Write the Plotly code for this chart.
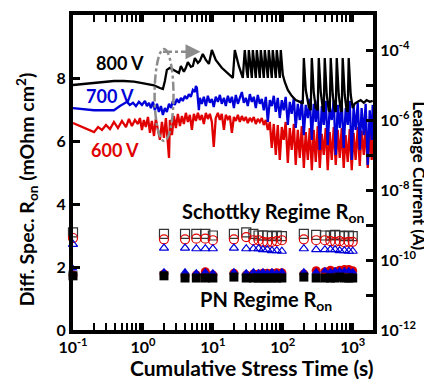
import plotly.graph_objects as go

# ---------------- data ----------------
# Leakage current (A) vs cumulative stress time (s)
t_600 = [0.1, 0.2, 0.228, 0.26, 0.296, 0.338, 0.385, 0.439, 0.501, 0.572, 0.631, 0.696, 0.769, 0.848,
         0.906, 0.968, 1.03, 1.10, 1.18, 1.26, 1.34, 1.44, 1.53, 1.64, 1.75, 1.87, 2.0, 2.13, 2.28, 2.36,
         2.43, 2.60, 2.77, 2.96, 3.16, 3.38, 3.61, 3.85, 4.11, 4.39, 4.69, 5.01, 5.35, 5.72, 6.11, 6.52,
         6.96, 7.43, 7.94, 8.48, 9.06, 9.68, 10.3, 11.0, 11.8, 12.6, 13.4, 14.4, 15.3, 16.4, 17.5, 18.7,
         20.0, 21.3, 22.8, 24.3, 26.0, 27.7, 29.6, 31.6, 33.8, 36.1, 38.5, 41.1, 43.9, 46.9, 50.1, 53.5,
         57.2, 61.1, 65.2, 69.6, 74.3, 79.4, 84.8, 90.6, 96.8, 103, 110, 118, 126, 134, 144, 153, 164,
         175, 187, 200, 213, 228, 243, 260, 277, 296, 316, 338, 361, 385, 411, 439, 469, 501, 535, 572,
         611, 652, 696, 743, 794, 848, 906, 968, 1030, 1100, 1180, 1260, 1340, 1440, 1530, 1640, 1750,
         1870, 1930]
i_600 = [8.2e-7, 4.5e-7, 6.3e-7, 5.2e-7, 7.2e-7, 5.5e-7, 8.8e-7, 5.9e-7, 9.4e-7, 6.3e-7, 1.07e-6, 6.7e-7,
         1.0e-6, 7.7e-7, 1.14e-6, 5.2e-7, 1.0e-6, 6.3e-7, 1.22e-6, 4.3e-7, 9.4e-7, 3.5e-7, 1.07e-6, 5.2e-7,
         2.7e-7, 8.8e-7, 3.1e-7, 1.14e-6, 1.4e-7, 8.2e-8, 1.0e-6, 3.7e-7, 1.3e-6, 5.9e-7, 1.5e-6, 6.7e-7,
         1.3e-6, 7.7e-7, 1.6e-6, 8.8e-7, 1.4e-6, 5.2e-7, 1.5e-6, 9.4e-7, 1.6e-6, 1.0e-6, 1.4e-6, 7.7e-7,
         1.6e-6, 1.07e-6, 1.5e-6, 8.8e-7, 1.7e-7, 1.14e-6, 1.6e-6, 1.0e-6, 1.5e-6, 5.2e-7, 1.4e-6, 1.07e-6,
         1.3e-6, 4.3e-7, 1.22e-6, 9.4e-7, 1.4e-6, 8.8e-7, 1.3e-6, 9.4e-7, 1.22e-6, 8.2e-7, 1.14e-6, 9.4e-7,
         1.22e-6, 7.7e-7, 1.07e-6, 8.8e-7, 1.14e-6, 7.2e-7, 1.0e-6, 5.2e-7, 8.8e-7, 1.6e-7, 7.7e-7, 1.0e-7,
         7.2e-7, 7.2e-8, 6.3e-7, 2.7e-7, 8.8e-7, 5.9e-8, 5.9e-7, 1.4e-7, 7.7e-7, 5.2e-8, 5.2e-7, 8.2e-8,
         6.7e-7, 4.3e-8, 4.5e-7, 7.2e-8, 5.9e-7, 3.7e-8, 5.2e-7, 6.3e-8, 6.7e-7, 4.3e-8, 4.0e-7, 1.0e-7,
         5.9e-7, 3.7e-8, 4.5e-7, 7.2e-8, 6.3e-7, 5.2e-8, 5.2e-7, 8.2e-8, 5.9e-7, 4.3e-8, 3.7e-7, 6.3e-8,
         5.5e-7, 3.7e-8, 4.3e-7, 7.2e-8, 6.3e-7, 4.9e-8, 4.9e-7, 1.0e-7, 5.9e-7, 4.3e-8, 4.3e-7, 7.2e-8,
         5.2e-7]

t_700 = [0.1, 0.144, 0.2, 0.277, 0.385, 0.469, 0.536, 0.59, 0.65, 0.72, 0.794, 0.877, 0.968, 1.07, 1.14,
         1.22, 1.30, 1.39, 1.48, 1.59, 1.69, 1.81, 1.93, 2.06, 2.20, 2.36, 2.52, 2.68, 2.86, 3.06, 3.27,
         3.49, 3.72, 3.98, 4.25, 4.54, 4.84, 5.18, 5.53, 5.72, 5.91, 6.11, 6.31, 6.52, 6.96, 7.43, 7.94,
         8.48, 9.06, 9.68, 10.3, 11.0, 11.8, 12.6, 13.4, 14.4, 15.3, 16.4, 17.5, 18.7, 20.0, 21.3, 22.8,
         24.3, 26.0, 27.7, 29.6, 31.6, 33.8, 36.1, 38.5, 41.1, 43.9, 46.9, 50.1, 53.5, 57.2, 61.1, 65.2,
         69.6, 74.3, 79.4, 84.8, 90.6, 96.8, 103, 110, 118, 126, 134, 144, 153, 164, 175, 187, 200, 213,
         228, 243, 260, 277, 296, 316, 338, 361, 385, 411, 439, 469, 501, 535, 572, 611, 652, 696, 743,
         794, 848, 906, 968, 1030, 1100, 1180, 1260, 1340, 1440, 1530, 1640, 1750, 1870, 1930]
i_700 = [2.2e-6, 2.05e-6, 1.9e-6, 1.9e-6, 1.9e-6, 2.5e-6, 2.9e-6, 3.3e-6, 2.7e-6, 3.1e-6, 2.5e-6, 3.3e-6,
         2.7e-6, 3.5e-6, 2.5e-6, 3.1e-6, 2.2e-6, 3.3e-6, 1.9e-6, 2.9e-6, 1.7e-6, 2.5e-6, 1.4e-6, 2.2e-6,
         1.7e-6, 2.9e-6, 2.2e-6, 3.5e-6, 2.7e-6, 4.0e-6, 3.1e-6, 4.3e-6, 3.5e-6, 4.9e-6, 4.0e-6, 5.5e-6,
         4.6e-6, 7.2e-6, 6.3e-6, 9.4e-6, 8.2e-6, 3.3e-6, 1.9e-6, 4.3e-6, 2.9e-6, 4.6e-6, 2.5e-6, 4.9e-6,
         3.1e-6, 4.0e-6, 2.35e-6, 4.6e-6, 3.3e-6, 5.2e-6, 2.9e-6, 4.3e-6, 2.5e-6, 4.9e-6, 3.1e-6, 4.6e-6,
         2.2e-6, 5.2e-6, 2.9e-6, 4.3e-6, 6.3e-6, 3.1e-6, 4.3e-6, 2.5e-6, 5.5e-6, 3.3e-6, 4.6e-6, 2.2e-6,
         5.2e-6, 2.9e-6, 4.0e-6, 1.9e-6, 4.6e-6, 8.8e-7, 3.7e-6, 2.5e-6, 4.9e-6, 1.7e-6, 4.3e-6, 1.14e-6,
         3.7e-6, 1.9e-6, 4.6e-6, 7.2e-7, 3.3e-6, 1.5e-6, 4.3e-6, 5.9e-7, 2.9e-6, 1.0e-6, 3.7e-6, 3.7e-7,
         2.7e-6, 1.14e-6, 4.0e-6, 2.7e-7, 2.9e-6, 8.8e-7, 3.7e-6, 1.4e-7, 2.5e-6, 7.2e-7, 3.5e-6, 1.9e-7,
         2.35e-6, 1.0e-6, 3.7e-6, 1.0e-7, 2.7e-6, 5.9e-7, 3.3e-6, 1.6e-7, 2.2e-6, 7.2e-7, 3.5e-6, 7.2e-8,
         2.5e-6, 5.2e-7, 3.1e-6, 1.4e-7, 2.2e-6, 3.7e-7, 2.9e-6, 5.2e-8, 1.9e-6, 2.7e-7, 2.7e-6]

t_800 = [0.1, 0.144, 0.2, 0.277, 0.385, 0.536, 0.743, 0.936, 1.18, 1.44, 1.75, 1.93, 2.06, 2.20, 2.43,
         2.77, 3.06, 3.27, 3.49, 3.85, 4.11, 4.39, 4.84, 5.18, 5.53, 6.11, 6.52, 7.18, 7.94, 8.77, 9.68,
         11.0, 13.4, 16.4, 19.3, 20.6, 23.5, 26.8, 28.6,
         30.6, 31.6, 32.7, 34.9, 36.1, 37.3, 39.8, 41.1, 42.5, 45.4, 46.9, 48.5, 51.8, 53.5, 55.3,
         59.1, 61.1, 63.1, 67.4, 69.6, 71.9, 76.8, 79.4, 82.0, 87.6, 90.6, 93.6,
         100, 107, 118, 134, 153, 175, 193, 200, 213, 235, 251, 260, 277, 296, 316, 327, 349, 373, 385,
         398, 425, 454, 469, 485, 518, 553, 572, 591, 631, 674, 696, 719, 768, 820, 848, 876, 936, 1000,
         1064, 1180, 1300, 1440, 1580, 1750, 1930]
i_800 = [1.0e-5, 1.07e-5, 1.15e-5, 1.25e-5, 1.3e-5, 1.3e-5, 1.25e-5, 1.15e-5, 1.07e-5, 9.8e-6, 8.2e-6, 7.7e-6,
         1.3e-5, 2.7e-5, 3.1e-5, 2.7e-5, 2.4e-5, 2.2e-5, 3.5e-5, 2.4e-5, 3.1e-5, 4.5e-5, 3.3e-5, 3.5e-5,
         5.9e-5, 4.3e-5, 4.9e-5, 7.7e-5, 5.2e-5, 4.0e-5, 1.0e-4,
         5.2e-5, 3.1e-5, 2.1e-5, 1.6e-5, 1.0e-4, 3.5e-5, 1.6e-5, 1.0e-4,
         2.4e-5, 1.6e-5, 1.0e-4, 2.4e-5, 1.6e-5, 1.0e-4, 2.4e-5, 1.6e-5, 1.0e-4, 2.4e-5, 1.6e-5, 1.0e-4,
         2.4e-5, 1.6e-5, 1.0e-4, 2.4e-5, 1.6e-5, 1.0e-4, 2.4e-5, 1.6e-5, 1.0e-4, 2.4e-5, 1.6e-5, 1.0e-4,
         2.4e-5, 1.6e-5, 1.0e-4,
         1.95e-5, 1.2e-5, 7.2e-6, 4.9e-6, 3.7e-6, 3.3e-6, 2.9e-6, 5.9e-5, 7.2e-6, 2.5e-6, 1.9e-6, 5.9e-5,
         6.3e-6, 2.2e-6, 1.9e-6, 5.9e-5, 6.3e-6, 2.2e-6, 1.7e-6, 5.9e-5, 5.2e-6, 1.9e-6, 1.7e-6, 5.9e-5,
         5.2e-6, 1.9e-6, 1.7e-6, 5.9e-5, 5.2e-6, 1.9e-6, 1.7e-6, 5.9e-5, 5.2e-6, 1.9e-6, 1.7e-6, 5.9e-5,
         5.2e-6, 2.2e-6, 2.9e-6, 3.3e-6, 3.7e-6, 3.1e-6, 3.7e-6, 3.3e-6, 3.5e-6]

# Differential specific Ron (mOhm cm^2) measurements
t_meas = [0.1, 2.0, 4.0, 5.8, 7.8, 10, 20, 30, 38, 45, 52, 60, 70, 82, 97,
          200, 300, 400, 480, 560, 650, 760, 880, 1000, 2050]
sch_800 = [3.1, 3.05, 3.05, 3.05, 3.05, 3.0, 3.05, 3.1, 3.05, 3.0, 3.0, 3.0, 2.98, 3.0, 2.98,
           3.05, 3.02, 3.0, 3.0, 3.02, 3.0, 2.98, 3.0, 2.98, 3.0]
sch_600 = [2.92, 2.88, 2.88, 2.9, 2.9, 2.85, 2.88, 2.95, 2.85, 2.85, 2.8, 2.78, 2.8, 2.82, 2.85,
           2.88, 2.85, 2.85, 2.82, 2.8, 2.82, 2.78, 2.8, 2.8, 2.85]
sch_700 = [2.72, 2.6, 2.6, 2.58, 2.58, 2.58, 2.6, 2.58, 2.58, 2.58, 2.55, 2.55, 2.52, 2.52, 2.5,
           2.58, 2.55, 2.55, 2.55, 2.55, 2.52, 2.52, 2.5, 2.5, 2.6]
pn_800 = [1.72, 1.72, 1.65, 1.65, 1.65, 1.65, 1.68, 1.65, 1.65, 1.65, 1.65, 1.65, 1.65, 1.65, 1.65,
          1.68, 1.65, 1.65, 1.65, 1.65, 1.68, 1.65, 1.65, 1.65, 1.65]
pn_600 = [1.75, 1.78, 1.72, 1.75, 1.85, 1.75, 1.8, 1.75, 1.78, 1.78, 1.8, 1.8, 1.8, 1.82, 1.82,
          1.78, 1.88, 1.85, 1.9, 1.85, 1.9, 1.92, 1.92, 1.88, 1.75]
pn_700 = [1.95, 1.85, 1.85, 1.82, 1.85, 1.82, 1.85, 1.82, 1.85, 1.82, 1.85, 1.82, 1.85, 1.82, 1.85,
          1.85, 1.85, 1.88, 1.85, 1.88, 1.88, 1.88, 1.88, 1.85, 1.95]

x_tick_vals = [0.1, 1, 10, 100, 1000]
x_tick_text = ["10<sup>-1</sup>", "10<sup>0</sup>", "10<sup>1</sup>", "10<sup>2</sup>", "10<sup>3</sup>"]
y_tick_vals = [0, 2, 4, 6, 8, 10]
y2_tick_exps = [-12, -11, -10, -9, -8, -7, -6, -5, -4, -3]
y2_label_exps = [-12, -10, -8, -6, -4]

# ---------------- figure ----------------
FONT = "Lato"
BLACK = "#000000"
RED = "#e00000"
BLUE = "#0000d8"

fig = go.Figure()

# leakage lines on right log axis
for t, i, c in [(t_600, i_600, RED), (t_700, i_700, BLUE), (t_800, i_800, BLACK)]:
    fig.add_trace(go.Scatter(x=t, y=i, yaxis="y2", mode="lines",
                             line=dict(color=c, width=2.3), showlegend=False))

# Schottky regime (open markers)
fig.add_trace(go.Scatter(x=t_meas, y=sch_800, mode="markers", cliponaxis=False,
                         marker=dict(symbol="square-open", size=9, color="#333333", line=dict(width=1.2)),
                         showlegend=False))
fig.add_trace(go.Scatter(x=t_meas, y=sch_600, mode="markers", cliponaxis=False,
                         marker=dict(symbol="circle-open", size=9, color=RED, line=dict(width=1.2)),
                         showlegend=False))
fig.add_trace(go.Scatter(x=t_meas, y=sch_700, mode="markers", cliponaxis=False,
                         marker=dict(symbol="triangle-up-open", size=8, color=BLUE, line=dict(width=1.2)),
                         showlegend=False))
# PN regime (filled markers)
fig.add_trace(go.Scatter(x=t_meas, y=pn_600, mode="markers", cliponaxis=False,
                         marker=dict(symbol="circle", size=9, color=RED), showlegend=False))
fig.add_trace(go.Scatter(x=t_meas, y=pn_700, mode="markers", cliponaxis=False,
                         marker=dict(symbol="triangle-up", size=8, color=BLUE), showlegend=False))
fig.add_trace(go.Scatter(x=t_meas, y=pn_800, mode="markers", cliponaxis=False,
                         marker=dict(symbol="square", size=9, color=BLACK), showlegend=False))

tickfont = dict(family=FONT, size=16, color=BLACK)

minor_x = [m * 10 ** d for d in range(-1, 4) for m in range(2, 10)]

# the page body adds an 8 px offset, so the figure is 8 px smaller than the window
fig.update_layout(
    width=424, height=381,
    margin=dict(l=65, r=59, t=7, b=59, autoexpand=False),
    paper_bgcolor="white", plot_bgcolor="white",
    font=dict(family=FONT, color=BLACK),
    showlegend=False,
    xaxis=dict(type="log", range=[-1, 3.29], showgrid=False, zeroline=False, automargin=False,
               showline=True, linewidth=4, linecolor=BLACK, mirror="allticks",
               ticks="inside", ticklen=7, tickwidth=3, tickcolor=BLACK,
               tickvals=x_tick_vals, ticktext=["<b>%s</b>" % s for s in x_tick_text],
               tickfont=tickfont,
               minor=dict(ticks="inside", ticklen=4, tickwidth=2, tickcolor=BLACK,
                          tickvals=minor_x, showgrid=False)),
    yaxis=dict(range=[0, 10], showgrid=False, zeroline=False, automargin=False,
               showline=True, linewidth=4, linecolor=BLACK,
               ticks="inside", ticklen=7, tickwidth=3, tickcolor=BLACK,
               tickvals=y_tick_vals, ticktext=["<b>%d</b>" % v for v in y_tick_vals],
               tickfont=tickfont),
    yaxis2=dict(type="log", range=[-12, -3], overlaying="y", side="right", automargin=False,
                showgrid=False, zeroline=False,
                showline=True, linewidth=4, linecolor=BLACK,
                ticks="inside", ticklen=7, tickwidth=3, tickcolor=BLACK,
                tickvals=[10.0 ** e for e in y2_tick_exps],
                ticktext=["<b>10<sup>%d</sup></b>" % e if e in y2_label_exps else ""
                          for e in y2_tick_exps],
                tickfont=tickfont),
)

annos = [
    dict(x=-0.155, y=0.445, text="<b>Diff. Spec. R<sub>on</sub> (mOhm cm<sup>2</sup>)</b>", textangle=-90,
         font=dict(size=19.5)),
    dict(x=1.155, y=0.49, text="<b>Leakage Current (A)</b>", textangle=90, font=dict(size=17)),
    dict(x=0.597, y=-0.12, text="<b>Cumulative Stress Time (s)</b>", font=dict(size=21)),
    dict(x=0.157, y=0.848, text="<b>800 V</b>", font=dict(size=18, color=BLACK)),
    dict(x=0.123, y=0.743, text="<b>700 V</b>", font=dict(size=18, color=BLUE)),
    dict(x=0.14, y=0.571, text="<b>600 V</b>", font=dict(size=18, color=RED)),
    dict(x=0.667, y=0.372, text="<b>Schottky Regime R<sub>on</sub></b>", font=dict(size=20)),
    dict(x=0.643, y=0.095, text="<b>PN Regime R<sub>on</sub></b>", font=dict(size=20)),
]
for a in annos:
    base = dict(xref="paper", yref="paper", showarrow=False, xanchor="center", yanchor="middle")
    base.update(a)
    f = dict(family=FONT, color=BLACK)
    f.update(a.get("font", {}))
    base["font"] = f
    fig.add_annotation(**base)

# grey dash-dot highlight ellipse and arrow
GREY = "#8c8c8c"
fig.add_shape(type="circle", xref="paper", yref="paper", x0=0.272, x1=0.335, y0=0.6, y1=0.892,
              line=dict(color=GREY, width=2.5, dash="dashdot"))
fig.add_shape(type="line", xref="paper", yref="paper", x0=0.30, x1=0.405, y0=0.883, y1=0.883,
              line=dict(color=GREY, width=2.5, dash="dashdot"))
fig.add_annotation(xref="paper", yref="paper", x=0.425, y=0.883, ax=-8, ay=0,
                   showarrow=True, arrowhead=2, arrowsize=1.2, arrowwidth=2.5, arrowcolor=GREY, text="")

fig.write_html("out.html")
